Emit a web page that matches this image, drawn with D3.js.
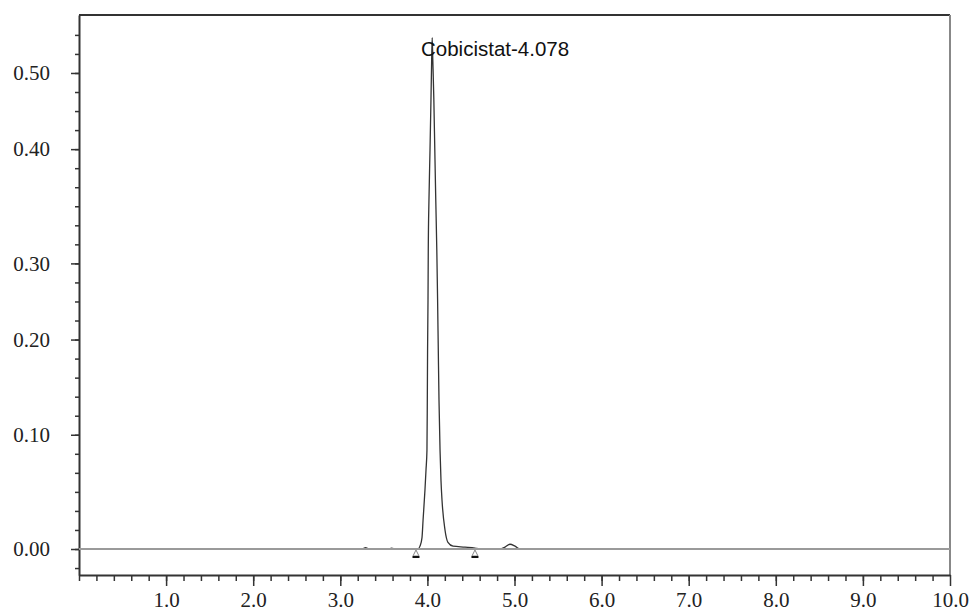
<!DOCTYPE html>
<head>
  <meta charset="utf-8">
  <title>Cobicistat chromatogram</title>
  <script src="https://d3js.org/d3.v7.min.js"></script>
  <style>
    body { margin: 0; background: #fff; }
    .axis text { font-family: 'Liberation Serif', 'Times New Roman', serif; font-size: 21px; fill: #222; }
    .axis path, .axis line { stroke: #333; }
  </style>
</head>
<body>
  <div id="my_dataviz"></div>
</body>

<script>
  // retention time (min) and absorbance (AU)
  var times = [2.60, 3.25, 3.29, 3.33, 3.55, 3.59, 3.63, 3.85, 3.892, 3.915, 3.938, 3.950, 3.972, 3.984, 3.995,
    3.999, 4.002, 4.007, 4.010, 4.018, 4.030, 4.041, 4.049, 4.055, 4.062, 4.074, 4.085, 4.096, 4.108,
    4.117, 4.125, 4.133, 4.145, 4.156, 4.168, 4.202, 4.236, 4.294, 4.432, 4.547, 4.604,
    4.834, 4.891, 4.948, 5.006, 5.063, 5.60];
  var absorb = [0.000, 0.000, 0.0015, 0.000, 0.000, 0.001, 0.000, 0.000, 0.000, 0.003, 0.012, 0.030, 0.062, 0.083, 0.104,
    0.157, 0.209, 0.262, 0.314, 0.367, 0.419, 0.472, 0.514, 0.537, 0.514, 0.472, 0.419, 0.367, 0.314,
    0.262, 0.209, 0.157, 0.104, 0.072, 0.051, 0.020, 0.007, 0.003, 0.002, 0.001, 0.000,
    0.000, 0.002, 0.005, 0.003, 0.000, 0.000];

  // integration start / end markers
  var markerTimes = [3.869, 4.546];

  var peakLabel = "Cobicistat-4.078";
  var peakTime = 4.053;

  // axis ticks
  var xMajorTicks = [1, 2, 3, 4, 5, 6, 7, 8, 9, 10];
  var xMinorTicks = d3.range(0, 50).map(function (i) { return i * 0.2; });
  var yMajorTicks = [0, 0.12, 0.22, 0.30, 0.42, 0.50];
  var yTickLabels = ["0.00", "0.10", "0.20", "0.30", "0.40", "0.50"];
  var yMinorTicks = d3.range(-1, 28).map(function (i) { return i * 0.02; });

  var W = 972, H = 609;
  var margin = { left: 79, right: 950, top: 15, bottom: 575 };

  var svg = d3.select("#my_dataviz")
    .append("svg")
    .attr("width", W)
    .attr("height", H);

  var x = d3.scaleLinear().domain([0, 10]).range([margin.left, margin.right]);
  var y = d3.scaleLinear().domain([-0.0273, 0.5609]).range([margin.bottom, margin.top]);

  // frame: top and right
  svg.append("line")
    .attr("x1", margin.left).attr("x2", margin.right).attr("y1", margin.top).attr("y2", margin.top)
    .attr("stroke", "#333").attr("stroke-width", 2);
  svg.append("line")
    .attr("x1", margin.right).attr("x2", margin.right).attr("y1", margin.top).attr("y2", margin.bottom)
    .attr("stroke", "#888").attr("stroke-width", 2);

  // X axis
  svg.append("g")
    .attr("class", "axis")
    .attr("transform", "translate(0," + margin.bottom + ")")
    .call(d3.axisBottom(x).tickValues(xMinorTicks).tickSize(6).tickFormat(""))
    .call(function (g) { g.select(".domain").remove(); g.selectAll("line").attr("stroke-width", 1.5); });
  svg.append("g")
    .attr("class", "axis")
    .attr("transform", "translate(0," + margin.bottom + ")")
    .call(d3.axisBottom(x).tickValues(xMajorTicks).tickSize(11).tickPadding(6).tickSizeOuter(0).tickFormat(d3.format(".1f")))
    .call(function (g) {
      g.select(".domain").attr("stroke-width", 2);
      g.selectAll("line").attr("stroke-width", 1.5);
    });

  // Y axis
  svg.append("g")
    .attr("class", "axis")
    .attr("transform", "translate(" + margin.left + ",0)")
    .call(d3.axisLeft(y).tickValues(yMinorTicks).tickSize(4).tickFormat(""))
    .call(function (g) { g.select(".domain").remove(); g.selectAll("line").attr("stroke-width", 1.5); });
  svg.append("g")
    .attr("class", "axis")
    .attr("transform", "translate(" + margin.left + ",0)")
    .call(d3.axisLeft(y).tickValues(yMajorTicks).tickSize(8).tickPadding(21).tickSizeOuter(0)
      .tickFormat(function (d, i) { return yTickLabels[i]; }))
    .call(function (g) {
      g.select(".domain").attr("stroke-width", 2);
      g.selectAll("line").attr("stroke-width", 1.5);
    });

  // trace
  var pts = times.map(function (t, i) { return [t, absorb[i]]; });
  svg.append("path")
    .datum(pts)
    .attr("fill", "none")
    .attr("stroke", "#333")
    .attr("stroke-width", 1.3)
    .attr("d", d3.line()
      .x(function (d) { return x(d[0]); })
      .y(function (d) { return y(d[1]); })
      .curve(d3.curveMonotoneX));

  // baseline (drawn over the trace, as in the original)
  svg.append("line")
    .attr("x1", x(0)).attr("x2", x(10)).attr("y1", y(0)).attr("y2", y(0))
    .attr("stroke", "#9a9a9a").attr("stroke-width", 2.2);

  // integration markers
  var mk = svg.selectAll(".marker").data(markerTimes).enter().append("g")
    .attr("transform", function (d) { return "translate(" + x(d) + "," + y(0) + ")"; });
  mk.append("path")
    .attr("d", "M0,1 L-3,7 L3,7 Z")
    .attr("fill", "#fff").attr("stroke", "#888").attr("stroke-width", 1);
  mk.append("rect")
    .attr("x", -3.5).attr("y", 7).attr("width", 7).attr("height", 2)
    .attr("fill", "#111");

  // peak label
  svg.append("text")
    .attr("x", x(peakTime) - 11)
    .attr("y", 56)
    .attr("font-family", "'Liberation Sans', Arial, sans-serif")
    .attr("font-size", "20.5px")
    .attr("fill", "#111")
    .text(peakLabel);
</script>
